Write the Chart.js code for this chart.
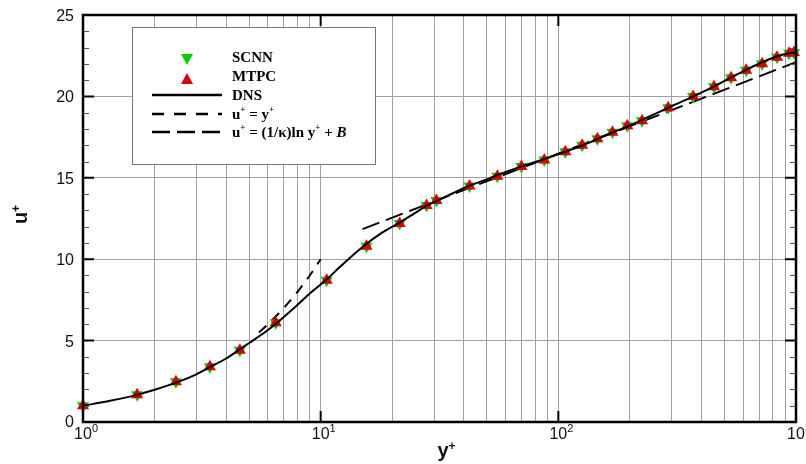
<!DOCTYPE html>
<html>
<head>
<meta charset="utf-8">
<script src="https://cdn.jsdelivr.net/npm/chart.js@4.4.1/dist/chart.umd.min.js"></script>
<style>
  html, body { margin: 0; padding: 0; background: #fff; }
  #wrap { width: 806px; height: 464px; }
</style>
</head>
<body>
<div id="wrap"><canvas id="chart" width="806" height="464"></canvas></div>
<script>
// values
const markerYPlus = [1.0, 1.69, 2.46, 3.42, 4.57, 6.47, 10.6, 15.6, 21.5, 27.9, 30.7, 42.3, 55.4, 69.9, 87.3,
    107, 126, 146, 169, 195, 225, 290, 369, 452, 533, 617, 720, 832, 935, 980];
const scnnU = [1.0, 1.67, 2.47, 3.4, 4.4, 6.1, 8.7, 10.8, 12.2, 13.3, 13.6, 14.5, 15.1, 15.7, 16.1,
    16.6, 17.0, 17.4, 17.8, 18.2, 18.5, 19.3, 20.0, 20.6, 21.15, 21.6, 22.0, 22.4, 22.65, 22.7];
const mtpcU = [1.0, 1.67, 2.47, 3.4, 4.4, 6.1, 8.7, 10.8, 12.2, 13.3, 13.6, 14.5, 15.1, 15.7, 16.1,
    16.6, 17.0, 17.4, 17.8, 18.2, 18.5, 19.3, 20.0, 20.6, 21.15, 21.6, 22.0, 22.4, 22.65, 22.7];

const dnsYPlus = [1, 1.3, 1.7, 2, 2.5, 3, 3.4, 4, 4.5, 5, 6, 6.5, 7, 8, 9, 10.5, 12, 15, 18, 21.5, 25, 28, 31,
    36, 42, 50, 56, 70, 87, 107, 127, 147, 170, 196, 228, 290, 370, 450, 530, 620, 720, 830, 935, 1000];
const dnsU = [1.0, 1.3, 1.68, 1.98, 2.45, 2.93, 3.35, 3.9, 4.4, 4.85, 5.65, 6.05, 6.45, 7.2, 7.9, 8.7, 9.5,
    10.75, 11.6, 12.25, 12.85, 13.3, 13.6, 14.05, 14.5, 14.9, 15.2, 15.7, 16.15, 16.6, 17.0, 17.4, 17.8,
    18.15, 18.6, 19.3, 20.0, 20.6, 21.15, 21.65, 22.1, 22.45, 22.65, 22.7];

const viscYPlus = [5.5, 6, 7, 8, 9, 10];
const viscU = [5.5, 6, 7, 8, 9, 10];

const logYPlus = [15, 1000];
const logU = [11.85, 22.1];

const xTickPowers = [0, 1, 2, 3];
const yTickLabels = [0, 5, 10, 15, 20, 25];

function pts(xs, ys) {
    return xs.map((x, i) => ({ x: x, y: ys[i] }));
}

// draw "base" with a small raised "sup"; align: 'center' | 'right' | 'left'
function supText(ctx, base, sup, x, y, font, supFont, align) {
    ctx.font = font;
    const wb = ctx.measureText(base).width;
    ctx.font = supFont;
    const ws = ctx.measureText(sup).width;
    let x0 = x;
    if (align === 'center') x0 = x - wb / 2;
    if (align === 'right') x0 = x - wb - ws;
    ctx.textAlign = 'left';
    ctx.font = font;
    ctx.fillText(base, x0, y);
    ctx.font = supFont;
    ctx.fillText(sup, x0 + wb, y - 7);
    return x0 + wb + ws;
}

const framePlugin = {
    id: 'frame',
    afterDraw: (chart) => {
        const { ctx, chartArea, scales } = chart;
        const { left, right, top, bottom } = chartArea;
        ctx.save();

        // minor y ticks (every unit), both sides
        ctx.strokeStyle = '#555';
        ctx.lineWidth = 1;
        for (let v = 1; v < 25; v++) {
            if (v % 5 === 0) continue;
            const py = Math.round(scales.y.getPixelForValue(v)) + 0.5;
            ctx.beginPath();
            ctx.moveTo(left, py); ctx.lineTo(left + 6, py);
            ctx.moveTo(right, py); ctx.lineTo(right - 6, py);
            ctx.stroke();
        }
        // major ticks
        ctx.strokeStyle = '#000';
        ctx.lineWidth = 2;
        yTickLabels.forEach((v) => {
            const py = scales.y.getPixelForValue(v);
            ctx.beginPath();
            ctx.moveTo(left, py); ctx.lineTo(left + 11, py);
            ctx.moveTo(right, py); ctx.lineTo(right - 11, py);
            ctx.stroke();
        });
        xTickPowers.forEach((p) => {
            const px = scales.x.getPixelForValue(Math.pow(10, p));
            ctx.beginPath();
            ctx.moveTo(px, bottom); ctx.lineTo(px, bottom - 11);
            ctx.moveTo(px, top); ctx.lineTo(px, top + 11);
            ctx.stroke();
        });

        // frame
        ctx.lineWidth = 2.5;
        ctx.strokeRect(left, top, right - left, bottom - top);

        // tick labels
        ctx.fillStyle = '#111';
        ctx.textBaseline = 'alphabetic';
        ctx.font = '16px "Liberation Sans", Arial, sans-serif';
        ctx.textAlign = 'right';
        yTickLabels.forEach((v) => {
            const py = scales.y.getPixelForValue(v);
            ctx.fillText(String(v), left - 9, py + 6 - (v === 0 ? 1 : 0));
        });
        xTickPowers.forEach((p) => {
            const px = scales.x.getPixelForValue(Math.pow(10, p));
            supText(ctx, '10', String(p), px, bottom + 17, '16px "Liberation Sans", Arial, sans-serif',
                '11px "Liberation Sans", Arial, sans-serif', 'center');
        });

        // axis titles
        const tFont = 'bold 20px "Liberation Sans", Arial, sans-serif';
        const sFont = 'bold 12px "Liberation Sans", Arial, sans-serif';
        supText(ctx, 'y', '+', 443, 457, tFont, sFont, 'center');
        ctx.save();
        ctx.translate(27, 218);
        ctx.rotate(-Math.PI / 2);
        supText(ctx, 'u', '+', 0, 0, tFont, sFont, 'center');
        ctx.restore();

        // legend box
        const bx = 132, by = 27, bw = 243, bh = 137;
        ctx.fillStyle = '#fff';
        ctx.fillRect(bx, by, bw, bh);
        ctx.strokeStyle = '#777';
        ctx.lineWidth = 1;
        ctx.strokeRect(bx + 0.5, by + 0.5, bw, bh);

        const lf = 'bold 15px "Liberation Serif", "Times New Roman", serif';
        const lfs = 'bold 9px "Liberation Serif", "Times New Roman", serif';
        const tx = 232;
        const rows = [62, 81, 100, 119, 137];

        // markers
        const mx = 187;
        ctx.fillStyle = '#00d000';
        ctx.beginPath();
        ctx.moveTo(mx - 6, rows[0] - 8); ctx.lineTo(mx + 6, rows[0] - 8); ctx.lineTo(mx, rows[0] + 3);
        ctx.closePath(); ctx.fill();
        ctx.fillStyle = '#d80000';
        ctx.beginPath();
        ctx.moveTo(mx - 6, rows[1] + 3); ctx.lineTo(mx + 6, rows[1] + 3); ctx.lineTo(mx, rows[1] - 8);
        ctx.closePath(); ctx.fill();

        // line samples
        ctx.strokeStyle = '#000';
        ctx.lineWidth = 2.5;
        const lineSample = (y, dash) => {
            ctx.setLineDash(dash);
            ctx.beginPath();
            ctx.moveTo(152, y); ctx.lineTo(222, y);
            ctx.stroke();
        };
        lineSample(rows[2] - 5, []);
        lineSample(rows[3] - 5, [12, 10]);
        lineSample(rows[4] - 5, [18, 7]);
        ctx.setLineDash([]);

        ctx.fillStyle = '#000';
        ctx.textAlign = 'left';
        ctx.font = lf;
        ctx.fillText('SCNN', tx, rows[0]);
        ctx.fillText('MTPC', tx, rows[1]);
        ctx.fillText('DNS', tx, rows[2]);
        let cx = supText(ctx, 'u', '+', tx, rows[3], lf, lfs, 'left');
        cx = supText(ctx, ' = y', '+', cx, rows[3], lf, lfs, 'left');
        cx = supText(ctx, 'u', '+', tx, rows[4], lf, lfs, 'left');
        cx = supText(ctx, ' = (1/\u03BA)ln y', '+', cx, rows[4], lf, lfs, 'left');
        ctx.font = lf;
        ctx.fillText(' + ', cx, rows[4]);
        cx += ctx.measureText(' + ').width;
        ctx.font = 'bold italic 15px "Liberation Serif", "Times New Roman", serif';
        ctx.fillText('B', cx, rows[4]);

        ctx.restore();
    }
};

const datasets = [
    {
        label: 'DNS',
        data: pts(dnsYPlus, dnsU),
        borderColor: '#000',
        borderWidth: 2,
        pointRadius: 0,
        cubicInterpolationMode: 'monotone',
        order: 0,
    },
    {
        label: 'MTPC',
        data: pts(markerYPlus, mtpcU),
        showLine: false,
        clip: false,
        pointStyle: 'triangle',
        pointRadius: 7,
        backgroundColor: '#d80000',
        borderColor: '#d80000',
        borderWidth: 0,
        order: 1,
    },
    {
        label: 'SCNN',
        data: pts(markerYPlus, scnnU),
        showLine: false,
        clip: false,
        pointStyle: 'triangle',
        rotation: 180,
        pointRadius: 7,
        backgroundColor: '#00d000',
        borderColor: '#00d000',
        borderWidth: 0,
        order: 2,
    },
    {
        label: 'u+ = y+',
        data: pts(viscYPlus, viscU),
        borderColor: '#000',
        borderWidth: 2,
        borderDash: [10, 8],
        pointRadius: 0,
        tension: 0,
        order: 3,
    },
    {
        label: 'log law',
        data: pts(logYPlus, logU),
        borderColor: '#000',
        borderWidth: 2,
        borderDash: [18, 7],
        pointRadius: 0,
        order: 4,
    },
];

new Chart(document.getElementById('chart'), {
    type: 'line',
    data: { datasets: datasets },
    options: {
        responsive: false,
        animation: false,
        layout: { padding: { left: 83, right: 10, top: 15, bottom: 42 } },
        plugins: { legend: { display: false }, tooltip: { enabled: false } },
        scales: {
            x: {
                type: 'logarithmic',
                min: 1,
                max: 1000,
                afterBuildTicks: (scale) => {
                    const t = [];
                    for (let p = 0; p < 3; p++) {
                        for (let m = 1; m < 10; m++) t.push({ value: m * Math.pow(10, p) });
                    }
                    t.push({ value: 1000 });
                    scale.ticks = t;
                },
                ticks: { display: false },
                grid: { color: '#a0a0a0', lineWidth: 1, drawTicks: false },
                border: { display: false },
            },
            y: {
                min: 0,
                max: 25,
                ticks: { display: false, stepSize: 5 },
                grid: { color: '#a0a0a0', lineWidth: 1, drawTicks: false },
                border: { display: false },
            },
        },
    },
    plugins: [framePlugin],
});
</script>
</body>
</html>
